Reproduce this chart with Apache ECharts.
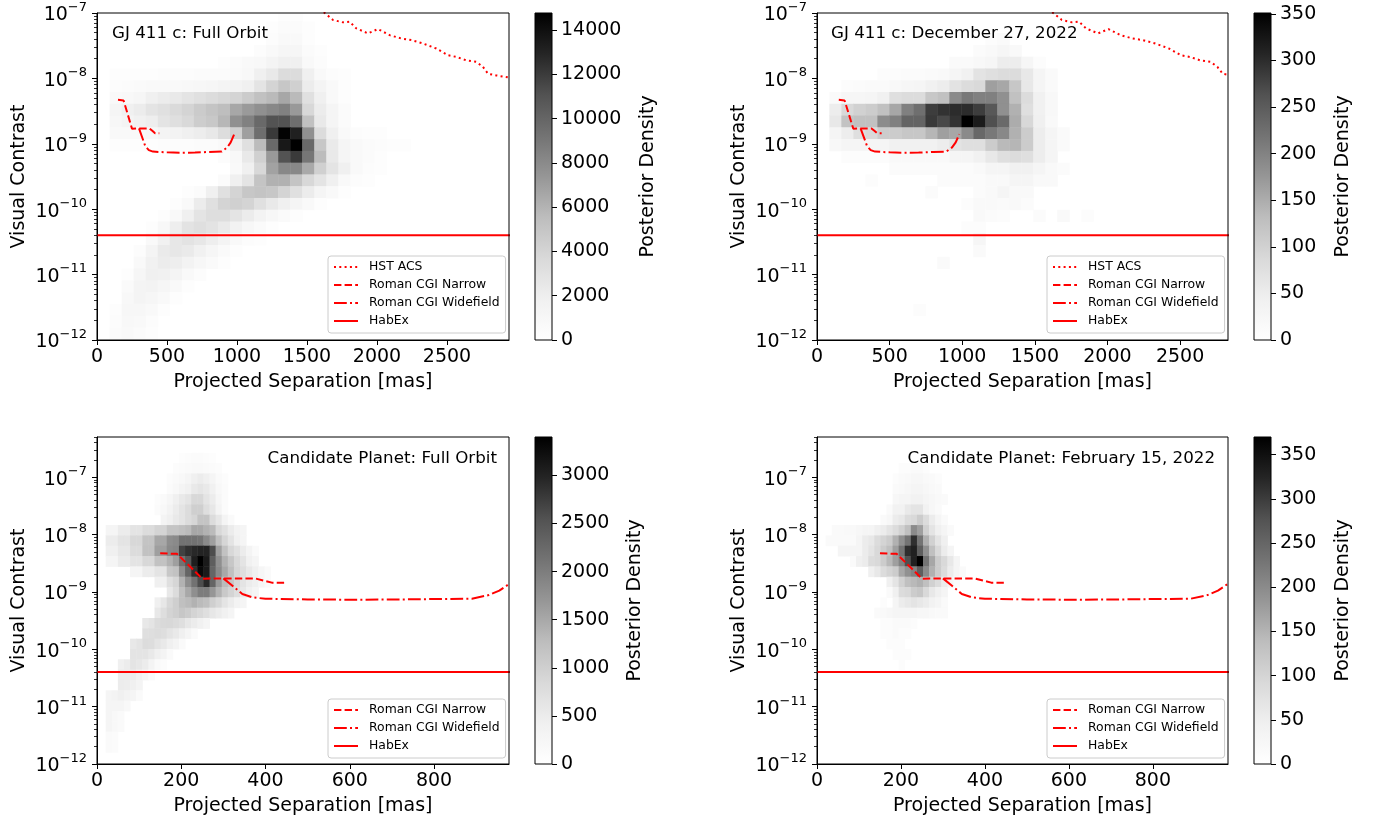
<!DOCTYPE html>
<html><head><meta charset="utf-8">
<script src="https://cdn.jsdelivr.net/npm/echarts@6/dist/echarts.min.js"></script>
<style>html,body{margin:0;padding:0;background:#fff}#c{width:1380px;height:823px}</style>
</head><body><div id="c"></div>
<script>
// ---------------- DATA ----------------
// matplotlib "Greys" colormap stops
const GREYS = ['#ffffff','#f0f0f0','#d9d9d9','#bdbdbd','#969696','#737373','#525252','#252525','#000000'];

// Contrast curves (separation in mas, visual contrast)
const hstSep = [1590, 1638, 1686, 1757, 1805, 1852, 1936, 2007, 2090, 2174, 2245, 2329, 2424, 2507, 2567, 2638, 2710, 2757, 2793, 2852, 2943];
const hstContrast = [1.15e-7, 9.55e-8, 7.82e-8, 7.19e-8, 7.36e-8, 5.82e-8, 4.88e-8, 5.68e-8, 4.59e-8, 4.07e-8, 3.85e-8, 3.42e-8, 2.86e-8, 2.26e-8, 2.13e-8, 1.89e-8, 1.79e-8, 1.5e-8, 1.18e-8, 1.11e-8, 1.03e-8];
const narrowSep = [150, 190, 250, 300, 375, 395, 415, 445];
const narrowContrast = [4.7e-9, 4.6e-9, 1.7e-9, 1.72e-9, 1.72e-9, 1.58e-9, 1.45e-9, 1.45e-9];
const wideSep = [300, 323, 345, 370, 400, 500, 600, 700, 800, 890, 930, 955, 980];
const wideContrast = [1.72e-9, 1.25e-9, 9.2e-10, 8.0e-10, 7.6e-10, 7.4e-10, 7.3e-10, 7.35e-10, 7.5e-10, 7.6e-10, 8.8e-10, 1.05e-9, 1.4e-9];
const habexSep = [0, 3000];
const habexContrast = [4e-11, 4e-11];

// Tick labels
const sepTicksWide = [0, 500, 1000, 1500, 2000, 2500];
const sepTicksNarrow = [0, 200, 400, 600, 800];
const contrastTicks = [1e-12, 1e-11, 1e-10, 1e-9, 1e-8, 1e-7];
const cbTicksTL = [0, 2000, 4000, 6000, 8000, 10000, 12000, 14000];
const cbTicksTR = [0, 50, 100, 150, 200, 250, 300, 350];
const cbTicksBL = [0, 500, 1000, 1500, 2000, 2500, 3000];
const cbTicksBR = [0, 50, 100, 150, 200, 250, 300, 350];

// Histogram bins: x start / width (mas); y top edge (log10) / height (dex)
const tlBins = {x0: 4, dx: 86, yTop: -6.948, dy: 0.18};
const trBins = {x0: 2.4, dx: 82.6, yTop: -6.948, dy: 0.18};
const blBins = {x0: 6, dx: 14.5, yTop: -6.215, dy: 0.18};
const brBins = {x0: 6, dx: 14.5, yTop: -6.215, dy: 0.18};

// Posterior density cells: [row from top, first column, values...]
const tlCells = [
 [0, 15, [300, 300]],
 [1, 14, [300, 500, 500, 200]],
 [2, 14, [400, 700, 700, 300]],
 [3, 13, [400, 700, 1100, 1100, 500, 200]],
 [4, 10, [300, 500, 700, 900, 1300, 1800, 1800, 800, 400]],
 [5, 1, [200, 250, 300, 300, 350, 400, 400, 450, 500, 550, 600, 900, 1800, 2400, 3450, 3450, 1850, 800, 400, 200]],
 [6, 1, [400, 500, 600, 700, 700, 800, 900, 1000, 1100, 1300, 1500, 1850, 2800, 4000, 4900, 4300, 2150, 1300, 700, 300]],
 [7, 1, [700, 900, 1100, 1850, 2150, 2400, 2800, 3150, 3450, 3750, 4000, 4600, 5300, 5700, 6600, 5700, 3150, 1850, 700, 300]],
 [8, 1, [1250, 1850, 2150, 2800, 3150, 3600, 4000, 4600, 5100, 5500, 6600, 7200, 7700, 8100, 8500, 7250, 3750, 2150, 1250, 500]],
 [9, 1, [1000, 1300, 1700, 2000, 2800, 3200, 3700, 4500, 4800, 5800, 7700, 8500, 9800, 11000, 11000, 9500, 5300, 2400, 1250, 500]],
 [10, 1, [700, 700, 800, 1000, 1400, 1500, 1800, 2100, 2500, 3400, 4300, 6950, 9500, 12100, 14600, 13150, 7700, 3450, 1850, 700, 400, 300, 200]],
 [11, 1, [300, 300, 300, 300, 350, 350, 400, 450, 500, 700, 1850, 3150, 5600, 9800, 13550, 14770, 9800, 4870, 2300, 1250, 700, 500, 400, 300, 200]],
 [12, 10, [400, 900, 2400, 4300, 7250, 11000, 12050, 9050, 5600, 2400, 1250, 700, 500, 300]],
 [13, 11, [700, 1850, 3750, 6800, 8100, 8100, 6500, 4300, 2800, 1850, 700, 400, 300]],
 [14, 10, [500, 1850, 2800, 5100, 6100, 6100, 5100, 3750, 2800, 1850, 700, 400, 300]],
 [15, 7, [300, 500, 1850, 3150, 4000, 4870, 5100, 4870, 4000, 3150, 2150, 1250, 700, 300]],
 [16, 6, [300, 700, 2150, 3150, 4000, 4300, 4000, 3150, 2400, 1850, 1250, 700, 300]],
 [17, 5, [300, 800, 1800, 2800, 3300, 3300, 2800, 2200, 1500, 1000, 600, 300]],
 [18, 4, [300, 900, 2000, 2900, 3200, 2900, 2300, 1600, 1000, 600, 300]],
 [19, 4, [700, 1700, 2600, 2900, 2600, 2000, 1400, 800, 400, 200]],
 [20, 3, [400, 1300, 2300, 2600, 2300, 1700, 1100, 600, 300]],
 [21, 3, [700, 1700, 2200, 2000, 1500, 1000, 600, 300]],
 [22, 2, [300, 1100, 1800, 1700, 1300, 800, 400]],
 [23, 2, [600, 1400, 1500, 1100, 700, 300]],
 [24, 2, [900, 1300, 1100, 700, 300]],
 [25, 1, [300, 1000, 1000, 700, 300]],
 [26, 1, [400, 900, 800, 400]],
 [27, 1, [500, 800, 500, 200]],
 [28, 1, [300, 500, 300]]
];
const trCells = [
 [2, 14, [10, 14]],
 [3, 13, [12, 18, 25, 18]],
 [4, 11, [14, 14, 20, 25, 50, 50, 25, 10]],
 [5, 5, [10, 10, 12, 12, 14, 18, 30, 40, 68, 76, 82, 82, 60, 30, 14]],
 [6, 2, [8, 12, 14, 14, 20, 25, 30, 40, 50, 68, 82, 88, 165, 156, 116, 60, 30, 14]],
 [7, 1, [14, 25, 25, 30, 40, 76, 82, 82, 116, 126, 190, 213, 203, 203, 183, 126, 82, 40, 20]],
 [8, 1, [50, 88, 100, 108, 126, 156, 203, 225, 284, 294, 300, 300, 284, 255, 183, 145, 76, 40, 20]],
 [9, 1, [60, 122, 126, 126, 188, 203, 239, 239, 288, 273, 294, 351, 319, 265, 232, 151, 90, 44, 18]],
 [10, 1, [30, 50, 76, 88, 108, 108, 116, 116, 140, 165, 156, 190, 234, 213, 193, 145, 108, 50, 30, 14]],
 [11, 1, [20, 30, 30, 30, 30, 40, 40, 40, 40, 50, 68, 76, 76, 108, 135, 140, 108, 50, 30, 14]],
 [12, 2, [8, 8, 8, 8, 18, 18, 18, 18, 18, 30, 30, 40, 60, 76, 82, 76, 50, 30]],
 [13, 6, [12, 12, 12, 12, 12, 12, 12, 18, 30, 30, 40, 40, 30, 18, 12]],
 [14, 4, [8, 0, 0, 0, 0, 0, 12, 12, 12, 12, 18, 18, 30, 30, 18, 18]],
 [15, 9, [12, 0, 0, 0, 12, 18, 30, 18, 18]],
 [16, 12, [8, 18, 18, 14, 18, 12]],
 [17, 13, [18, 12, 8, 0, 0, 12, 0, 18, 0, 8]],
 [18, 12, [8, 8]],
 [19, 13, [25]],
 [20, 13, [14]],
 [21, 10, [14]],
 [25, 8, [10]]
];
const blCells = [
 [2, 13, [60, 90, 110, 110, 90, 60]],
 [3, 12, [80, 110, 150, 180, 180, 150, 110, 80]],
 [4, 11, [80, 136, 200, 290, 420, 500, 420, 290, 136, 80]],
 [5, 11, [100, 200, 300, 400, 550, 620, 550, 400, 200, 100]],
 [6, 9, [80, 136, 250, 425, 550, 650, 870, 870, 650, 500, 250, 100]],
 [7, 9, [100, 200, 350, 500, 650, 800, 1000, 1000, 750, 600, 300, 120]],
 [8, 10, [300, 425, 550, 650, 800, 900, 1170, 1170, 800, 600, 300, 150]],
 [9, 1, [290, 290, 500, 500, 650, 650, 800, 800, 930, 930, 1170, 1170, 1224, 1300, 1520, 1500, 1400, 1300, 870, 700, 500, 350, 290]],
 [10, 1, [500, 500, 650, 650, 870, 870, 1170, 1170, 1520, 1520, 1800, 1850, 2140, 2140, 2140, 2100, 1840, 1600, 1224, 900, 650, 400, 290]],
 [11, 1, [425, 425, 580, 580, 800, 800, 1200, 1200, 1600, 1600, 1840, 1900, 2700, 2860, 2950, 3000, 3000, 2600, 1600, 1200, 870, 700, 500, 300, 136]],
 [12, 1, [290, 290, 500, 500, 650, 650, 870, 870, 1200, 1200, 1400, 1600, 2140, 2500, 3050, 3400, 3100, 2400, 1780, 1400, 1120, 850, 650, 400, 290]],
 [13, 5, [290, 290, 500, 500, 650, 650, 1120, 1200, 1780, 2300, 2860, 3300, 3100, 2300, 1840, 1500, 1224, 900, 740, 550, 425, 250, 136]],
 [14, 9, [425, 425, 740, 900, 1400, 1800, 2140, 2600, 2950, 2300, 1660, 1300, 1120, 850, 650, 500, 425, 250, 136]],
 [15, 11, [580, 800, 1224, 1500, 1780, 2000, 2000, 1700, 1400, 1100, 930, 750, 580, 400, 290]],
 [16, 9, [425, 600, 870, 1000, 1224, 1300, 1400, 1300, 1224, 1000, 870, 650, 500, 350, 290]],
 [17, 9, [580, 750, 930, 1000, 1120, 1050, 930, 850, 740, 600, 500, 400, 290]],
 [18, 7, [580, 650, 800, 850, 870, 820, 740, 600, 500, 400, 290]],
 [19, 7, [740, 760, 800, 750, 650, 550, 425, 280, 136]],
 [20, 5, [580, 650, 800, 780, 650, 550, 425, 300, 150]],
 [21, 5, [650, 650, 650, 550, 425, 300, 150]],
 [22, 3, [425, 500, 650, 600, 500, 300, 136, 80]],
 [23, 3, [500, 500, 500, 400, 290, 150]],
 [24, 3, [500, 480, 425, 300]],
 [25, 1, [290, 350, 425, 350, 290, 150]],
 [26, 1, [290, 290, 290, 200]],
 [27, 1, [290, 200, 136]],
 [28, 1, [290, 200, 136]],
 [29, 1, [136, 100]],
 [30, 1, [136, 100]]
];
const brCells = [
 [3, 13, [10, 10, 15, 15, 10]],
 [4, 12, [10, 15, 20, 25, 25, 20, 15, 10]],
 [5, 12, [15, 20, 25, 30, 30, 25, 20, 15]],
 [6, 12, [25, 30, 30, 40, 40, 30, 25, 20, 15]],
 [7, 11, [15, 40, 40, 60, 70, 70, 40, 25, 15]],
 [8, 10, [15, 25, 54, 63, 87, 93, 114, 87, 54, 31, 15]],
 [9, 2, [15, 15, 20, 20, 25, 30, 31, 46, 54, 70, 87, 106, 133, 200, 174, 106, 70, 46, 31, 15]],
 [10, 1, [15, 15, 15, 15, 15, 31, 54, 63, 87, 100, 114, 153, 192, 230, 313, 230, 153, 106, 70, 46]],
 [11, 3, [31, 31, 31, 31, 54, 70, 93, 114, 133, 174, 230, 313, 330, 260, 192, 133, 93, 54, 31]],
 [12, 5, [15, 46, 54, 87, 93, 114, 143, 174, 210, 280, 330, 370, 230, 165, 114, 93, 63, 31]],
 [13, 8, [46, 63, 87, 100, 114, 165, 192, 210, 260, 200, 153, 114, 87, 54, 31, 15]],
 [14, 11, [46, 70, 106, 133, 143, 153, 133, 106, 87, 54, 31, 15]],
 [15, 11, [15, 46, 87, 93, 114, 122, 93, 63, 46, 31]],
 [16, 10, [10, 0, 31, 54, 63, 70, 63, 54, 40, 31, 15]],
 [17, 9, [15, 20, 25, 30, 30, 30, 30, 25, 25, 20, 15, 15]],
 [18, 10, [10, 10, 15, 15, 15, 10]],
 [19, 10, [10, 10, 15, 10, 10]],
 [20, 11, [10, 10, 10]],
 [21, 12, [8, 10, 8]],
 [22, 13, [8]]
];

// ---------------- BUILD ----------------
const F = 'DejaVu Sans';
const RED = '#ff0000';

function buildCells(cells, b) {
  const out = [];
  cells.forEach(function (row) {
    const r = row[0], c = row[1];
    row[2].forEach(function (v, i) {
      if (!v) return;
      const col = c + i;
      out.push([b.x0 + b.dx * col, b.x0 + b.dx * (col + 1),
                Math.pow(10, b.yTop - b.dy * (r + 1)), Math.pow(10, b.yTop - b.dy * r), v]);
    });
  });
  return out;
}
function zip(a, b) { return a.map(function (v, i) { return [v, b[i]]; }); }
function minorTicks(maxExp, maxVal) {
  const out = [];
  for (let e = -12; e <= maxExp; e++) for (let m = 2; m <= 9; m++) {
    const v = m * Math.pow(10, e);
    if (v <= maxVal) out.push(v);
  }
  return out;
}
function logLabel(v) {
  const e = Math.round(Math.log10(v));
  return '{b|10}{s|' + (e < 0 ? '\u2212' : '') + Math.abs(e) + '}';
}
function plainLabel(v) { return String(Math.round(v)); }

const panels = [
  {plot: [97, 13, 412, 327], cb: [535, 13, 17, 327], xMax: 2943, xTicks: sepTicksWide, yMax: 1e-7,
   cbMax: 14770, cbTicks: cbTicksTL, cbGap: 87, cells: buildCells(tlCells, tlBins), hst: true,
   title: 'GJ 411 c: Full Orbit', titlePos: {left: 112, top: 25}, legendPos: {left: 328, top: 256}},
  {plot: [817, 13, 411, 327], cb: [1254, 13, 17, 327], xMax: 2830, xTicks: sepTicksWide, yMax: 1e-7,
   cbMax: 351, cbTicks: cbTicksTR, cbGap: 63, cells: buildCells(trCells, trBins), hst: true,
   title: 'GJ 411 c: December 27, 2022', titlePos: {left: 831, top: 25}, legendPos: {left: 1047, top: 256}},
  {plot: [97, 437, 412, 327], cb: [535, 437, 17, 327], xMax: 978, xTicks: sepTicksNarrow, yMax: 5.01e-7,
   cbMax: 3400, cbTicks: cbTicksBL, cbGap: 74, cells: buildCells(blCells, blBins), hst: false,
   title: 'Candidate Planet: Full Orbit', titlePos: {right: 883, top: 450}, legendPos: {left: 328, top: 699}},
  {plot: [817, 437, 411, 327], cb: [1254, 437, 17, 327], xMax: 979, xTicks: sepTicksNarrow, yMax: 5.01e-7,
   cbMax: 370, cbTicks: cbTicksBR, cbGap: 63, cells: buildCells(brCells, brBins), hst: false,
   title: 'Candidate Planet: February 15, 2022', titlePos: {right: 165, top: 450}, legendPos: {left: 1047, top: 699}}
];

const grid = [], xAxis = [], yAxis = [], series = [], visualMap = [], legend = [], title = [];
const axisText = {fontSize: 19, fontFamily: F, color: '#000'};
const gradStops = GREYS.slice().reverse().map(function (c, i) { return {offset: i / 8, color: c}; });

function renderCell(params, api) {
  const p0 = api.coord([api.value(0), api.value(3)]);
  const p1 = api.coord([api.value(1), api.value(2)]);
  return {type: 'rect',
    shape: {x: p0[0], y: p0[1], width: p1[0] - p0[0] + 0.5, height: p1[1] - p0[1] + 0.5},
    style: {fill: api.visual('color')}};
}

panels.forEach(function (p, i) {
  const gPlot = grid.length;
  grid.push({left: p.plot[0], top: p.plot[1], width: p.plot[2], height: p.plot[3], show: true,
    borderColor: '#000', borderWidth: 1, backgroundColor: 'transparent', z: 5,
    containLabel: false, outerBoundsMode: 'none'});
  const gCb = grid.length;
  grid.push({left: p.cb[0], top: p.cb[1], width: p.cb[2], height: p.cb[3], show: true,
    borderColor: '#000', borderWidth: 1, backgroundColor: 'transparent', z: 5,
    containLabel: false, outerBoundsMode: 'none'});

  const xi = xAxis.length;
  xAxis.push({gridIndex: gPlot, type: 'value', min: 0, max: p.xMax, position: 'bottom',
    axisLine: {show: true, onZero: false, lineStyle: {color: '#000', width: 1}},
    axisTick: {show: true, length: 5, customValues: p.xTicks, lineStyle: {color: '#000', width: 1}},
    axisLabel: {show: true, customValues: p.xTicks, formatter: plainLabel, margin: 8, fontSize: 19, fontFamily: F, color: '#000'},
    splitLine: {show: false},
    name: 'Projected Separation [mas]', nameLocation: 'middle', nameGap: 33, nameMoveOverlap: false,
    nameTextStyle: axisText});
  const xcb = xAxis.length;
  xAxis.push({gridIndex: gCb, type: 'category', data: ['density'], show: false});

  const yi = yAxis.length;
  yAxis.push({gridIndex: gPlot, type: 'log', logBase: 10, min: 1e-12, max: p.yMax, position: 'left',
    axisLine: {show: true, onZero: false, lineStyle: {color: '#000', width: 1}},
    axisTick: {show: true, length: 5, customValues: contrastTicks, lineStyle: {color: '#000', width: 1}},
    axisLabel: {show: true, customValues: contrastTicks, margin: 10, formatter: logLabel,
      rich: {b: {fontSize: 19, fontFamily: F, color: '#000', lineHeight: 24, verticalAlign: 'bottom'},
             s: {fontSize: 13, fontFamily: F, color: '#000', lineHeight: 14, verticalAlign: 'top'}}},
    splitLine: {show: false}, minorTick: {show: false},
    name: 'Visual Contrast', nameLocation: 'middle', nameGap: 68, nameRotate: 90, nameMoveOverlap: false,
    nameTextStyle: axisText});
  yAxis.push({gridIndex: gPlot, type: 'log', logBase: 10, min: 1e-12, max: p.yMax, position: 'left',
    axisLine: {show: false},
    axisTick: {show: true, length: 3, customValues: minorTicks(-7, p.yMax), lineStyle: {color: '#000', width: 0.8}},
    axisLabel: {show: false}, splitLine: {show: false}});
  const ycb = yAxis.length;
  yAxis.push({gridIndex: gCb, type: 'value', min: 0, max: p.cbMax, position: 'right',
    axisLine: {show: false},
    axisTick: {show: true, length: 5, customValues: p.cbTicks, lineStyle: {color: '#000', width: 1}},
    axisLabel: {show: true, customValues: p.cbTicks, formatter: plainLabel, margin: 9, fontSize: 19, fontFamily: F, color: '#000'},
    splitLine: {show: false},
    name: 'Posterior Density', nameLocation: 'middle', nameGap: p.cbGap, nameRotate: 90, nameMoveOverlap: false,
    nameTextStyle: axisText});

  const si = series.length;
  series.push({type: 'custom', name: 'density' + i, xAxisIndex: xi, yAxisIndex: yi, data: p.cells,
    encode: {x: [0, 1], y: [2, 3]}, renderItem: renderCell, clip: true, silent: true, z: 1});
  visualMap.push({type: 'continuous', show: false, seriesIndex: si, dimension: 4, min: 0, max: p.cbMax,
    inRange: {color: GREYS}});

  const names = [];
  function addLine(name, sep, con, dash) {
    names.push(name);
    series.push({type: 'line', name: name, xAxisIndex: xi, yAxisIndex: yi, data: zip(sep, con),
      symbol: 'none', showSymbol: false, clip: true, silent: true, z: 3,
      lineStyle: {color: RED, width: 2, type: dash, cap: 'butt'}, itemStyle: {color: RED}});
  }
  if (p.hst) addLine('HST ACS', hstSep, hstContrast, [2, 3.3]);
  addLine('Roman CGI Narrow', narrowSep, narrowContrast, [7.4, 3.2]);
  addLine('Roman CGI Widefield', wideSep, wideContrast, [12.8, 3.2, 2, 3.2]);
  addLine('HabEx', habexSep, habexContrast, 'solid');

  series.push({type: 'bar', xAxisIndex: xcb, yAxisIndex: ycb, data: [p.cbMax], barWidth: '100%', silent: true,
    itemStyle: {color: new echarts.graphic.LinearGradient(0, 0, 0, 1, gradStops)}});

  legend.push(Object.assign({orient: 'vertical', data: names, itemWidth: 24, itemHeight: 12, itemGap: 6,
    padding: [5, 6, 6, 5], borderColor: '#cccccc', borderWidth: 1, borderRadius: 3,
    backgroundColor: 'rgba(255,255,255,0.8)', selectedMode: false, z: 6,
    itemStyle: {opacity: 0, borderWidth: 0},
    textStyle: {fontSize: 12.4, fontFamily: F, color: '#000', padding: [0, 0, 0, 6]}}, p.legendPos));

  title.push(Object.assign({text: p.title, padding: 0,
    textStyle: {fontSize: 16.7, fontWeight: 'normal', fontFamily: F, color: '#000'}}, p.titlePos));
});

const chart = echarts.init(document.getElementById('c'), null, {renderer: 'canvas', width: 1380, height: 823});
chart.setOption({animation: false, backgroundColor: '#fff', textStyle: {fontFamily: F},
  title: title, grid: grid, xAxis: xAxis, yAxis: yAxis, series: series, visualMap: visualMap, legend: legend,
  tooltip: {show: false}});
</script></body></html>
